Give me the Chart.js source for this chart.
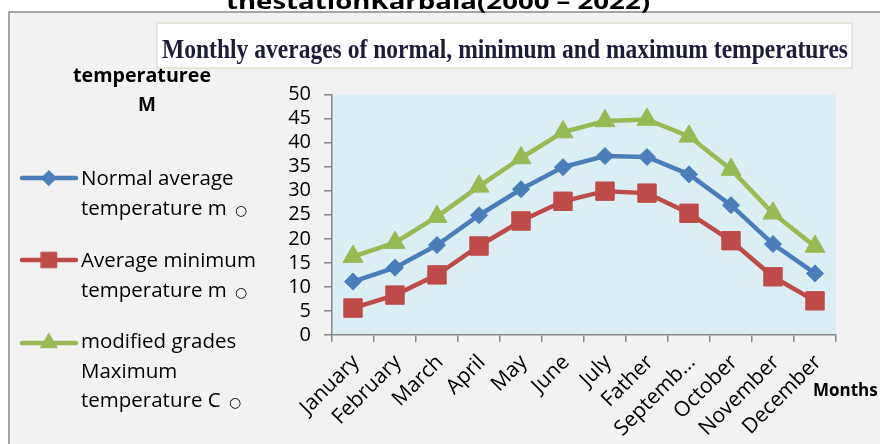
<!DOCTYPE html>
<html>
<head>
<meta charset="utf-8">
<script src="https://cdn.jsdelivr.net/npm/chart.js@4.4.1/dist/chart.umd.min.js"></script>
<style>
  html, body { margin: 0; padding: 0; background: #ffffff; }
  canvas { display: block; }
</style>
</head>
<body>
<canvas id="c" width="880" height="444"></canvas>
<script>
// Months along the x axis (labels as printed on the chart)
const months = ["January", "February", "March", "April", "May", "June",
                "July", "Father", "Septemb...", "October", "November", "December"];

// Monthly temperatures, Karbala station 2000 – 2022 (°C)
const normalAvg = [11.1, 14.0, 18.7, 24.9, 30.3, 34.9, 37.2, 37.0, 33.4, 27.0, 18.9, 12.8];
const minAvg    = [5.6, 8.3, 12.5, 18.5, 23.7, 27.8, 29.9, 29.5, 25.3, 19.6, 12.1, 7.1];
const maxAvg    = [16.3, 19.2, 24.6, 30.9, 36.8, 42.2, 44.5, 44.8, 41.3, 34.4, 25.3, 18.4];

// Value axis ticks
const yTickValues = [0, 5, 10, 15, 20, 25, 30, 35, 40, 45, 50];

// Legend text, line by line
const legendNormal = ["Normal average", "temperature m \u25CB"];
const legendMin    = ["Average minimum", "temperature m \u25CB"];
const legendMax    = ["modified grades", "Maximum", "temperature C \u25CB"];

const chartTitle    = "thestationKarbala(2000 \u2013 2022)";
const chartSubtitle = "Monthly averages of normal, minimum and maximum temperatures";
const yTitleLines   = ["temperaturee", "M"];
const xTitle        = "Months";

const BLUE = "#4a7ebb", RED = "#be4b48", GREEN = "#98b954";
const AXIS = "#868686";

// draw text squeezed/stretched to an exact width
function fitText(ctx, text, x, y, w, font, color) {
  ctx.save();
  ctx.font = font;
  ctx.fillStyle = color;
  ctx.textAlign = "left";
  ctx.textBaseline = "alphabetic";
  const m = ctx.measureText(text).width;
  ctx.translate(x, y);
  ctx.scale(w / m, 1);
  ctx.fillText(text, 0, 0);
  ctx.restore();
}

function marker(ctx, style, radius, x, y, color) {
  ctx.save();
  ctx.fillStyle = color;
  ctx.strokeStyle = color;
  ctx.lineWidth = 1;
  if (Chart.helpers && Chart.helpers.drawPoint) {
    Chart.helpers.drawPoint(ctx, { pointStyle: style, rotation: 0, radius: radius, borderWidth: 1 }, x, y);
  }
  ctx.restore();
}

const backdrop = {
  id: "backdrop",
  beforeDraw(chart) {
    const ctx = chart.ctx;
    const a = chart.chartArea;
    ctx.save();
    // page + chart frame
    ctx.fillStyle = "#ffffff";
    ctx.fillRect(0, 0, chart.width, chart.height);
    ctx.fillStyle = "#f2f2f2";
    ctx.fillRect(9, 12, chart.width, chart.height);
    ctx.strokeStyle = "#8a8a8a";
    ctx.lineWidth = 1.5;
    ctx.beginPath();
    ctx.moveTo(9, chart.height + 2);
    ctx.lineTo(9, 12);
    ctx.lineTo(chart.width + 2, 12);
    ctx.stroke();

    // main title (runs off the top edge)
    fitText(ctx, chartTitle, 226, 8.5, 424, "bold 22px 'Open Sans'", "#000000");

    // value axis title
    fitText(ctx, yTitleLines[0], 73, 82, 138, "bold 19px 'Open Sans'", "#000000");
    ctx.font = "bold 19px 'Open Sans'";
    ctx.fillStyle = "#000000";
    ctx.textAlign = "center";
    ctx.fillText(yTitleLines[1], 147, 111);

    // subtitle box
    ctx.fillStyle = "#ffffff";
    ctx.fillRect(157, 23, 695, 45);
    ctx.strokeStyle = "#e4ded2";
    ctx.lineWidth = 1.5;
    ctx.strokeRect(157, 23, 695, 45);
    fitText(ctx, chartSubtitle, 162, 58, 686, "bold 27px 'Liberation Serif'", "#1d1d3a");

    // plot area
    ctx.fillStyle = "#dbeef4";
    ctx.fillRect(a.left, a.top, a.right - a.left, a.bottom - a.top);
    ctx.restore();
  },
  afterDraw(chart) {
    const ctx = chart.ctx;
    ctx.save();
    // category axis title
    ctx.font = "bold 17px 'Open Sans'";
    ctx.fillStyle = "#000000";
    ctx.textAlign = "left";
    ctx.fillText(xTitle, 813, 396);

    // legend
    const entries = [
      { lines: legendNormal, y: 178, base: 185 },
      { lines: legendMin,    y: 260, base: 267 },
      { lines: legendMax,    y: 343, base: 348 }
    ];
    entries.forEach((e, i) => {
      const ds = chart.data.datasets[i];
      ctx.strokeStyle = ds.borderColor;
      ctx.lineWidth = 4.5;
      ctx.lineCap = "round";
      ctx.beginPath();
      ctx.moveTo(22, e.y);
      ctx.lineTo(76, e.y);
      ctx.stroke();
      const r = ds.pointStyle === "rect" ? 11 : (ds.pointStyle === "triangle" ? 9.5 : 7.5);
      marker(ctx, ds.pointStyle, r, 49, e.y, ds.borderColor);
      e.lines.forEach((t, k) => {
        const y = e.base + k * 29.5;
        const circle = t.indexOf("\u25CB");
        ctx.fillStyle = "#000000";
        ctx.textAlign = "left";
        ctx.font = "20.5px 'Open Sans'";
        if (circle >= 0) {
          const head = t.slice(0, circle);
          ctx.fillText(head, 81, y);
          const w = ctx.measureText(head).width;
          ctx.font = "14px 'DejaVu Sans'";
          ctx.fillText("\u25CB", 84 + w, y);
        } else {
          ctx.fillText(t, 81, y);
        }
      });
    });
    ctx.restore();
  }
};

new Chart(document.getElementById("c"), {
  type: "line",
  data: {
    labels: months,
    datasets: [
      { label: legendNormal.join(" "), data: normalAvg, borderColor: BLUE, backgroundColor: BLUE,
        pointStyle: "rectRot", pointRadius: 8.5, pointBorderWidth: 1, borderWidth: 4.5, tension: 0 },
      { label: legendMin.join(" "), data: minAvg, borderColor: RED, backgroundColor: RED,
        pointStyle: "rect", pointRadius: 13, pointBorderWidth: 1, borderWidth: 4.5, tension: 0 },
      { label: legendMax.join(" "), data: maxAvg, borderColor: GREEN, backgroundColor: GREEN,
        pointStyle: "triangle", pointRadius: 11.5, pointBorderWidth: 1, borderWidth: 4.5, tension: 0 }
    ]
  },
  options: {
    responsive: false,
    animation: false,
    devicePixelRatio: 1,
    layout: { padding: { left: 0, right: 44, top: 94.5, bottom: 0 } },
    plugins: { legend: { display: false }, title: { display: false }, tooltip: { enabled: false } },
    scales: {
      x: {
        offset: true,
        grid: { offset: true, drawOnChartArea: false, drawTicks: true, tickLength: 7, color: AXIS, lineWidth: 1.5 },
        border: { display: true, color: AXIS, width: 1.5 },
        ticks: { autoSkip: false, maxRotation: 45, minRotation: 45, color: "#000000", padding: 8,
                 labelOffset: 3, font: { family: "'Open Sans'", size: 21 } },
        afterFit(scale) { scale.height = 109; }
      },
      y: {
        min: 0, max: 50,
        afterBuildTicks(scale) { scale.ticks = yTickValues.map(v => ({ value: v })); },
        grid: { drawOnChartArea: false, drawTicks: true, tickLength: 8, color: AXIS, lineWidth: 1.5 },
        border: { display: true, color: AXIS, width: 1.5 },
        ticks: { autoSkip: false, color: "#000000", padding: 13, font: { family: "'Open Sans'", size: 20 } },
        afterFit(scale) { scale.width = 332; }
      }
    }
  },
  plugins: [backdrop]
});
</script>
</body>
</html>
